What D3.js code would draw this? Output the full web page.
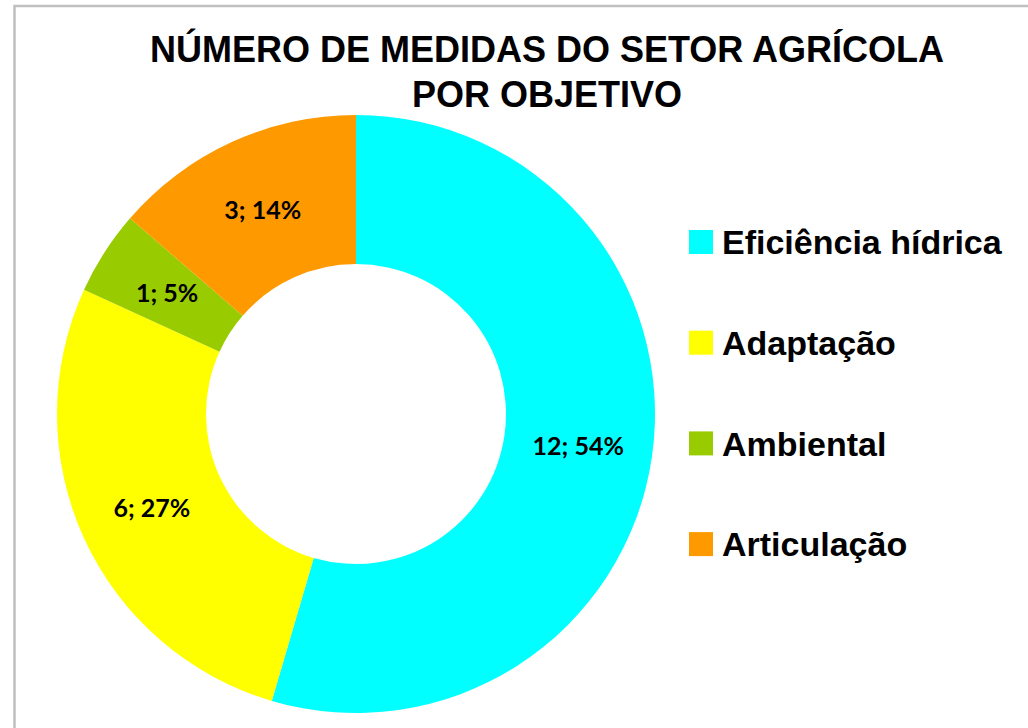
<!DOCTYPE html>
<html>
<head>
<meta charset="utf-8">
<script src="https://cdn.jsdelivr.net/npm/d3@7"></script>
<style>
  body { margin: 0; background: #fff; }
  svg { display: block; }
</style>
</head>
<body>
<div id="container"></div>
<script>
/* CONSTANTS AND DATA */
const width = 1028,
  height = 728;

const titleLines = ["NÚMERO DE MEDIDAS DO SETOR AGRÍCOLA", "POR OBJETIVO"];
const categories = ["Eficiência hídrica", "Adaptação", "Ambiental", "Articulação"];
const counts = [12, 6, 1, 3];
// percentages as printed on the chart
const percents = [54, 27, 5, 14];
const colors = ["#00ffff", "#ffff00", "#99cc00", "#ff9900"];

const data = categories.map((c, i) => ({ name: c, value: counts[i], pct: percents[i], color: colors[i] }));

const cx = 356, cy = 414, outerR = 299, innerR = 150;

const svg = d3.select("#container")
  .append("svg")
  .attr("width", width)
  .attr("height", height);

// chart frame
svg.append("rect")
  .attr("x", 14.5)
  .attr("y", 6)
  .attr("width", width + 10)
  .attr("height", height + 10)
  .attr("fill", "#fff")
  .attr("stroke", "#c0c0c0")
  .attr("stroke-width", 2.5);

// title
svg.append("g")
  .selectAll("text")
  .data(titleLines)
  .join("text")
  .attr("x", 547)
  .attr("y", (d, i) => 62 + i * 45)
  .attr("text-anchor", "middle")
  .attr("font-family", "'Liberation Sans', Arial, sans-serif")
  .attr("font-weight", "bold")
  .attr("font-size", 36)
  .attr("fill", "#000")
  .text(d => d);

// donut
const pie = d3.pie().value(d => d.value).sort(null);
const arc = d3.arc().innerRadius(innerR).outerRadius(outerR);

const g = svg.append("g").attr("transform", `translate(${cx},${cy})`);

g.selectAll("path")
  .data(pie(data))
  .join("path")
  .attr("d", arc)
  .attr("fill", d => d.data.color);

g.selectAll("text")
  .data(pie(data))
  .join("text")
  .attr("transform", d => `translate(${arc.centroid(d)})`)
  .attr("text-anchor", "middle")
  .attr("dy", "0.38em")
  .attr("font-family", "Lato, 'Open Sans', sans-serif")
  .attr("font-weight", "bold")
  .attr("font-size", 25)
  .attr("fill", "#000")
  .text(d => `${d.data.value}; ${d.data.pct}%`);

// legend
const legend = svg.append("g")
  .selectAll("g")
  .data(data)
  .join("g")
  .attr("transform", (d, i) => `translate(689, ${242 + i * 100.7})`);

legend.append("rect")
  .attr("x", 0)
  .attr("y", -12)
  .attr("width", 24)
  .attr("height", 24)
  .attr("fill", d => d.color);

legend.append("text")
  .attr("x", 33)
  .attr("y", 0)
  .attr("dy", "0.36em")
  .attr("font-family", "'Liberation Sans', Arial, sans-serif")
  .attr("font-weight", "bold")
  .attr("font-size", 34)
  .attr("fill", "#000")
  .text(d => d.name);
</script>
</body>
</html>
